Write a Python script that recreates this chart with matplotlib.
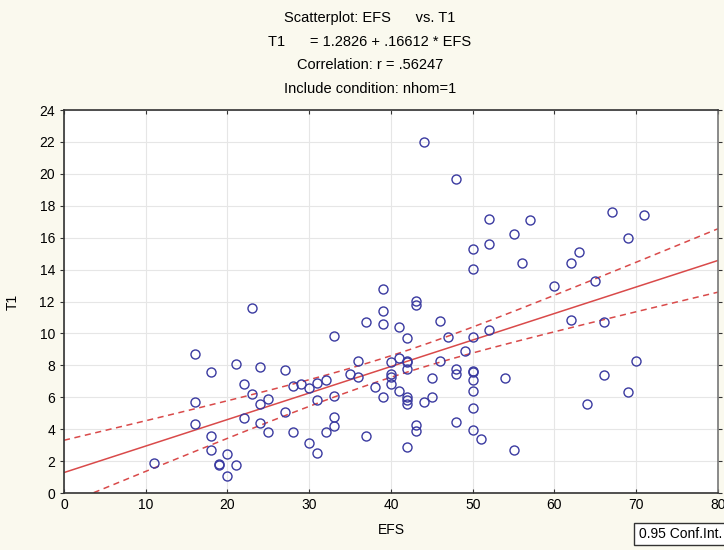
import numpy as np
import matplotlib
matplotlib.use("Agg")
import matplotlib.pyplot as plt

plt.rcParams["font.family"] = ["Liberation Sans", "DejaVu Sans"]

# EFS / T1 readings (nhom=1)
efs = [11, 16, 16, 16, 18, 18, 18, 19, 19, 20, 20, 21, 21, 22, 22, 23, 23,
       24, 24, 24, 25, 25, 27, 27, 28, 28, 29, 30, 30, 31, 31, 31, 32, 32,
       33, 33, 33, 33, 35, 36, 36, 37, 37, 38, 39, 39, 39, 39, 40, 40,
       40, 40, 41, 41, 41, 42, 42, 42, 42, 42, 42, 42, 42, 43, 43, 43, 43,
       44, 44, 45, 45, 46, 46, 47, 48, 48, 48, 48, 49, 50, 50, 50, 50, 50,
       50, 50, 50, 50, 51, 52, 52, 52, 54, 55, 55, 56, 57, 60, 62, 62, 63,
       64, 65, 66, 66, 67, 69, 69, 70, 71]
t1 = [1.9, 8.7, 5.7, 4.3, 7.6, 3.6, 2.7, 1.8, 1.75, 2.45, 1.05, 8.1, 1.76,
      6.8, 4.7, 11.6, 6.2, 7.9, 5.6, 4.4, 5.9, 3.85, 7.7, 5.1, 6.7, 3.85,
      6.8, 6.6, 3.15, 6.9, 5.8, 2.5, 7.1, 3.85, 9.85, 6.1, 4.75, 4.2, 7.45,
      8.3, 7.3, 10.7, 3.6, 6.65, 12.8, 11.4, 10.6, 6.0, 8.2, 7.45,
      7.3, 6.8, 10.4, 8.45, 6.4, 9.7, 8.2, 7.75, 6.0, 5.8, 5.6, 2.9, 8.25,
      12.05, 11.75, 4.25, 3.9, 5.7, 22.0, 7.2, 6.0, 10.8, 8.3, 9.8, 19.7,
      7.75, 7.45, 4.45, 8.9, 15.3, 14.05, 9.75, 7.65, 7.1, 6.4, 5.3, 3.95,
      7.6, 3.4, 17.2, 15.6, 10.2, 7.2, 16.2, 2.7, 14.4, 17.1, 13.0, 14.4,
      10.85, 15.1, 5.6, 13.3, 10.7, 7.4, 17.6, 16.0, 6.35, 8.3, 17.4]

intercept = 1.2826
slope = 0.16612

x = np.array(efs, dtype=float)
y = np.array(t1, dtype=float)
n = len(x)
resid = y - (intercept + slope * x)
s = np.sqrt(np.sum(resid ** 2) / (n - 2))
sxx = np.sum((x - x.mean()) ** 2)
xs = np.linspace(0, 80, 200)
fit = intercept + slope * xs
half = 1.984 * s * np.sqrt(1.0 / n + (xs - x.mean()) ** 2 / sxx)

bg = "#faf9ee"
fig = plt.figure(figsize=(7.24, 5.5), dpi=100, facecolor=bg)
ax = fig.add_axes([0.0884, 0.1036, 0.9033, 0.6964])
ax.set_facecolor("white")

ax.plot(x, y, "o", mfc="none", mec="#3a3aa0", ms=6.5, mew=1.0, zorder=3)
ax.plot(xs, fit, "-", color="#d94a4a", lw=1.1, zorder=2)
ax.plot(xs, fit + half, "--", color="#d94a4a", lw=1.1, dashes=(4, 3), zorder=2)
ax.plot(xs, fit - half, "--", color="#d94a4a", lw=1.1, dashes=(4, 3), zorder=2)

ax.set_xlim(0, 80)
ax.set_ylim(0, 24)
ax.set_xticks(range(0, 81, 10))
ax.set_yticks(range(0, 25, 2))
ax.grid(True, color="#e6e6e6", lw=0.8)
ax.set_axisbelow(True)
ax.tick_params(labelsize=10, length=3, color="#333333", top=True, right=True)
ax.tick_params(axis="x", direction="in")
for sp in ax.spines.values():
    sp.set_color("#333333")
    sp.set_linewidth(1.2)
ax.spines["right"].set_color("#777777")
ax.set_xlabel("EFS", fontsize=10, labelpad=8)
ax.set_ylabel("T1", fontsize=10, labelpad=14)

title_lines = ["Scatterplot: EFS      vs. T1",
               "T1      = 1.2826 + .16612 * EFS",
               "Correlation: r = .56247",
               "Include condition: nhom=1"]
for i, line in enumerate(title_lines):
    fig.text(0.511, 0.967 - i * 0.043, line, ha="center", va="center", fontsize=10.5)

fig.text(0.882, 0.016, "0.95 Conf.Int.", fontsize=10, ha="left", va="bottom",
         bbox=dict(boxstyle="square,pad=0.3", fc="white", ec="#333333", lw=1))

fig.savefig("out.png", dpi=100, facecolor=bg)
